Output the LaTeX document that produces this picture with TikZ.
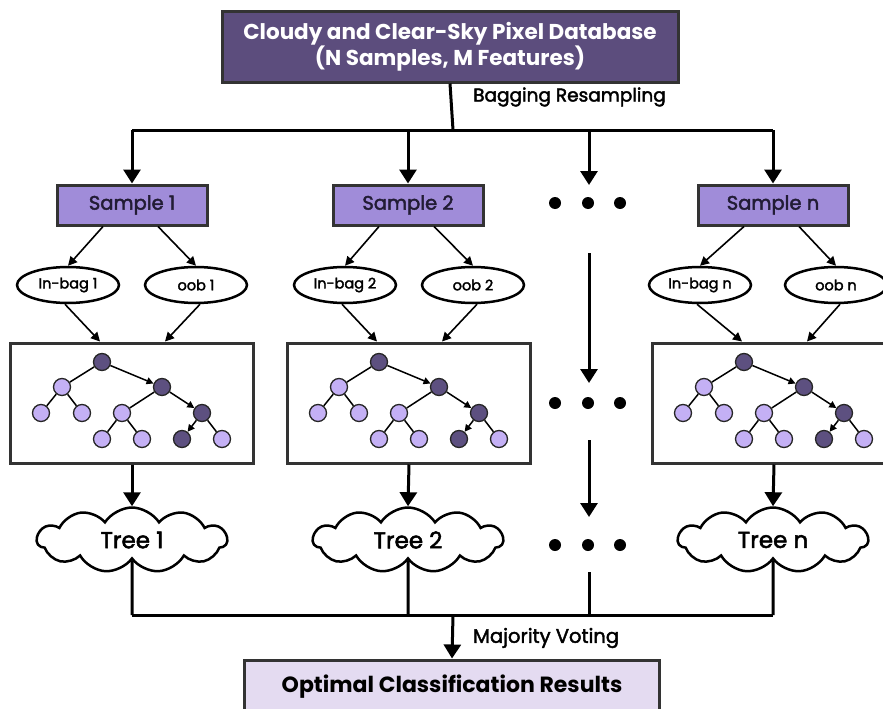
\documentclass[tikz,border=0pt]{standalone}
\usepackage{fontspec}
\setmainfont{Poppins}
\newfontfamily\medfont{Poppins}[FakeBold=2.2]
\usetikzlibrary{arrows.meta,shapes.geometric,shapes.symbols}

\definecolor{dbpurple}{HTML}{5C4D7D}
\definecolor{smpurple}{HTML}{A08CD9}
\definecolor{darknode}{HTML}{5D5080}
\definecolor{lightnode}{HTML}{C4B0F5}
\definecolor{resultfill}{HTML}{E4DBF1}
\definecolor{framegray}{HTML}{333333}
\definecolor{labelink}{HTML}{221C35}

\tikzset{
  bigline/.style={line width=3pt, draw=black},
  bigarrow/.style={bigline, -{Triangle[width=17pt,length=14pt]}},
  smallarrow/.style={line width=1.6pt, draw=black, -{Triangle[width=9pt,length=9pt]}},
  dbbox/.style={rectangle, draw=framegray, line width=3pt, fill=dbpurple,
    text=white, font=\bfseries\fontsize{21.5}{26}\selectfont, align=center,
    minimum width=456pt, minimum height=70pt, inner sep=0pt},
  samplebox/.style={rectangle, draw=framegray, line width=3pt, fill=smpurple,
    text=labelink, font=\medfont\fontsize{19.5}{22}\selectfont,
    minimum width=150pt, minimum height=40pt, inner sep=0pt},
  bagoval/.style={ellipse, draw=black, line width=2.5pt, fill=white,
    font=\medfont\fontsize{14.5}{17}\selectfont, minimum width=102pt, minimum height=36pt, inner sep=0pt},
  treebox/.style={rectangle, draw=framegray, line width=3pt, fill=white,
    minimum width=243pt, minimum height=120pt, inner sep=0pt},
  treecloud/.style={cloud, cloud puffs=11, cloud puff arc=115, aspect=2.9,
    draw=black, line width=2.5pt, fill=white, font=\medfont\fontsize{23}{26}\selectfont,
    minimum width=190pt, minimum height=65pt, inner sep=0pt},
  resultbox/.style={rectangle, draw=framegray, line width=3pt, fill=resultfill,
    font=\bfseries\fontsize{22}{26}\selectfont, minimum width=415pt, minimum height=54pt, inner sep=0pt},
  steplabel/.style={anchor=west, font=\medfont\fontsize{18.5}{22}\selectfont, inner sep=0pt},
  tnode/.style={circle, draw=black!85, line width=1.3pt, minimum size=17pt, inner sep=0pt},
  tdark/.style={tnode, fill=darknode},
  tlight/.style={tnode, fill=lightnode},
  tedge/.style={line width=1.5pt, draw=black},
  tarrow/.style={tedge, -{Triangle[width=7pt,length=7pt]}},
  bintree/.pic={
    \node[tdark]  (-r)   at (-30,-41) {};
    \node[tlight] (-l)   at (-70,-16) {};
    \node[tdark]  (-m)   at ( 30,-16) {};
    \node[tlight] (-ll)  at (-91, 10) {};
    \node[tlight] (-lr)  at (-50, 10) {};
    \node[tlight] (-ml)  at (-10, 10) {};
    \node[tdark]  (-mr)  at ( 70, 10) {};
    \node[tlight] (-mll) at (-30, 36) {};
    \node[tlight] (-mlr) at ( 10, 36) {};
    \node[tdark]  (-mrl) at ( 50, 36) {};
    \node[tlight] (-mrr) at ( 90, 36) {};
    \draw[tedge]  (-r) -- (-l);
    \draw[tarrow] (-r) -- (-m);
    \draw[tedge]  (-l) -- (-ll);
    \draw[tedge]  (-l) -- (-lr);
    \draw[tedge]  (-m) -- (-ml);
    \draw[tarrow] (-m) -- (-mr);
    \draw[tedge]  (-ml) -- (-mll);
    \draw[tedge]  (-ml) -- (-mlr);
    \draw[tarrow] (-mr) -- (-mrl);
    \draw[tedge]  (-mr) -- (-mrr);
  }
}

\begin{document}
\begin{tikzpicture}[x=1pt, y=-1pt]
  \clip (0,0) rectangle (883,709);
  \fill[white] (0,0) rectangle (883,709);

  % database at the top
  \node[dbbox] (db) at (450,47) {Cloudy and Clear-Sky Pixel Database\\(N Samples, M Features)};

  % bootstrap samples
  \node[samplebox] (s1) at (132,205) {Sample 1};
  \node[samplebox] (s2) at (408,205) {Sample 2};
  \node[samplebox] (sn) at (773,205) {Sample n};

  % in-bag and out-of-bag subsets
  \node[bagoval] (ib1) at (68,285)  {In-bag 1};
  \node[bagoval] (ob1) at (196,285) {oob 1};
  \node[bagoval] (ib2) at (345,285) {In-bag 2};
  \node[bagoval] (ob2) at (473,285) {oob 2};
  \node[bagoval] (ibn) at (700,285) {In-bag n};
  \node[bagoval] (obn) at (836,285) {oob n};

  % decision tree frames
  \node[treebox] (tb1) at (132,403) {};
  \node[treebox] (tb2) at (409,403) {};
  \node[treebox] (tbn) at (774,403) {};
  \pic (t1) at (tb1.center) {bintree};
  \pic (t2) at (tb2.center) {bintree};
  \pic (tn) at (tbn.center) {bintree};

  % trained trees
  \node[treecloud] (c1) at (132,540) {Tree 1};
  \node[treecloud] (c2) at (408,540) {Tree 2};
  \node[treecloud] (cn) at (773,540) {Tree n};

  % final result
  \node[resultbox] (res) at (452,687) {Optimal Classification Results};

  % labels on the trunk lines
  \node[steplabel] (bag) at (473,97) {Bagging Resampling};
  \node[steplabel, font=\medfont\fontsize{19.5}{22}\selectfont] (vote) at (473,638) {Majority Voting};

  % bus coordinates
  \coordinate (split) at (453,130);
  \coordinate (bl) at (132,130);
  \coordinate (br) at (773,130);
  \coordinate (bt2) at (408,130);
  \coordinate (bdots) at (589,130);
  \coordinate (dotsA) at (589,185);
  \coordinate (dotsBtop) at (589,253);
  \coordinate (dotsB) at (589,383);
  \coordinate (dotsCtop) at (589,440);
  \coordinate (dotsC) at (589,517);
  \coordinate (dotsDtop) at (589,572);
  \coordinate (ml) at (132,615);
  \coordinate (mr) at (773,615);
  \coordinate (m2) at (408,615);
  \coordinate (mdots) at (589,615);
  \coordinate (merge) at (453,615);

  % resampling bus
  \draw[bigline] (db.south) -- (split);
  \draw[bigline] (bl) -- (br);
  \draw[bigarrow] (bl) -- (s1.north);
  \draw[bigarrow] (bt2) -- (s2.north);
  \draw[bigarrow] (br) -- (sn.north);
  \draw[bigarrow] (bdots) -- (dotsA);

  % samples to subsets
  \foreach \s/\a/\b in {s1/ib1/ob1, s2/ib2/ob2, sn/ibn/obn} {
    \draw[smallarrow] ([xshift=-29pt]\s.south) -- (\a.north);
    \draw[smallarrow] ([xshift=26pt]\s.south) -- (\b.north);
  }
  % subsets to tree frames
  \foreach \a/\b/\t in {ib1/ob1/tb1, ib2/ob2/tb2, ibn/obn/tbn} {
    \draw[smallarrow] ([xshift=-3pt]\a.south) -- ([xshift=-32pt]\t.north);
    \draw[smallarrow] ([xshift=4pt]\b.south) -- ([xshift=33pt]\t.north);
  }

  % tree frames to clouds and on to the voting bus
  \foreach \t/\c/\m in {tb1/c1/ml, tb2/c2/m2, tbn/cn/mr} {
    \draw[bigarrow] (\t.south) -- (\c.north);
    \draw[bigline] (\c.south) -- (\m);
  }
  \draw[bigarrow] (dotsBtop) -- (dotsB);
  \draw[bigarrow] (dotsCtop) -- (dotsC);
  \draw[bigline] (dotsDtop) -- (mdots);
  \draw[bigline] (ml) -- (mr);
  \draw[bigarrow] (merge) -- (res.north);

  % ellipsis dots
  \foreach \y in {203,403,545} {
    \foreach \x in {555,588,620} {
      \fill[black] (\x,\y) circle (6pt);
    }
  }
\end{tikzpicture}
\end{document}
